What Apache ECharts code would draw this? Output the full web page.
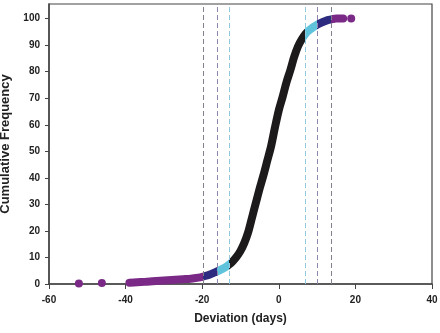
<!DOCTYPE html>
<html>
<head>
<meta charset="utf-8">
<script src="https://cdn.jsdelivr.net/npm/echarts@6/dist/echarts.min.js"></script>
<style>
  html,body{margin:0;padding:0;background:#fff;}
  #main{width:440px;height:333px;}
</style>
</head>
<body>
<div id="main"></div>
<script>
/* cumulative curve */
var curveX = [-39, -37, -35, -33, -31, -29, -27, -25, -23, -21, -20, -19, -18, -17, -16, -15, -14, -13, -12, -11,
              -10, -9, -8, -7, -6, -5, -4, -3, -2, -1, 0, 1, 2, 3, 4, 5, 6, 7, 8, 9, 10, 11, 12, 13, 14, 15, 16, 16.8];
var curveY = [0.5, 0.7, 0.8, 1.0, 1.2, 1.4, 1.6, 1.8, 2.0, 2.4, 2.7, 3.1, 3.6, 4.2, 4.8, 5.5, 6.3, 7.3, 8.6, 10.3,
              12.5, 15.5, 19.5, 25, 30.5, 36, 41, 46.5, 52, 59, 65.5, 70.5, 76, 80.5, 85.5, 89.5, 92.2, 94.3, 95.7, 96.8,
              97.7, 98.4, 99.0, 99.5, 99.8, 100, 100, 100];
/* isolated outliers */
var outX = [-52.2, -46.2, 18.9];
var outY = [0.2, 0.4, 100];
/* dashed cut-off lines */
var cutX = [-19.8, -16.2, -12.9, 6.8, 10.0, 13.7];
var cutColor = ['#80808e', '#8f84ac', '#8fc9df', '#8fc9df', '#8f84ac', '#80808e'];
var xTicks = [-60, -40, -20, 0, 20, 40];
var yTicks = [0, 10, 20, 30, 40, 50, 60, 70, 80, 90, 100];

var purple = '#7a2a86', navy = '#2d2b7f', sky = '#5fc3dc', black = '#1d1a1b';

var myChart = echarts.init(document.getElementById('main'));
var txt = '#222';

var option = {
    animation: false,
    grid: {left: 49, right: 8, top: 4, bottom: 49, show: true, borderColor: '#444', borderWidth: 1.2, outerBoundsMode: 'none', containLabel: false},
    xAxis: {
        type: 'value', min: -60, max: 40, interval: 20,
        name: 'Deviation (days)', nameLocation: 'middle', nameGap: 29,
        nameTextStyle: {fontFamily: 'Liberation Sans', fontWeight: 'bold', fontSize: 12, color: txt},
        axisLine: {onZero: false, lineStyle: {color: '#444', width: 1.5}},
        axisTick: {length: 5, lineStyle: {color: '#444'}, customValues: xTicks},
        axisLabel: {fontFamily: 'Liberation Sans', fontWeight: 'bold', fontSize: 10, color: txt, margin: 11, customValues: xTicks},
        splitLine: {show: false}
    },
    yAxis: {
        type: 'value', min: 0, max: 105.5, interval: 10,
        name: 'Cumulative Frequency', nameLocation: 'middle', nameGap: 33,
        nameTextStyle: {fontFamily: 'Liberation Sans', fontWeight: 'bold', fontSize: 13, color: txt},
        axisLine: {onZero: false, lineStyle: {color: '#444', width: 1.5}},
        axisTick: {length: 4, lineStyle: {color: '#444'}, customValues: yTicks},
        axisLabel: {fontFamily: 'Liberation Sans', fontWeight: 'bold', fontSize: 10, color: txt, margin: 9, customValues: yTicks},
        splitLine: {show: false}
    },
    visualMap: {
        show: false, type: 'piecewise', seriesIndex: 0, dimension: 0,
        pieces: [
            {lt: cutX[0], color: purple},
            {gte: cutX[0], lt: cutX[1], color: navy},
            {gte: cutX[1], lt: cutX[2], color: sky},
            {gte: cutX[2], lt: cutX[3], color: black},
            {gte: cutX[3], lt: cutX[4], color: sky},
            {gte: cutX[4], lt: cutX[5], color: navy},
            {gte: cutX[5], color: purple}
        ]
    },
    series: [
        {
            type: 'line',
            data: curveX.map(function(x, i){ return [x, curveY[i]]; }),
            smooth: 0.3,
            showSymbol: false,
            lineStyle: {width: 8, cap: 'round', join: 'round'},
            z: 3
        },
        {
            type: 'scatter',
            data: outX.map(function(x, i){ return [x, outY[i]]; }),
            symbolSize: 8,
            itemStyle: {color: purple, opacity: 1},
            z: 3,
            markLine: {
                silent: true,
                symbol: ['none', 'none'],
                label: {show: false},
                data: cutX.map(function(v, i){
                    return {xAxis: v, lineStyle: {color: cutColor[i], type: [5, 3], width: 1}};
                })
            }
        }
    ]
};
myChart.setOption(option);
</script>
</body>
</html>
